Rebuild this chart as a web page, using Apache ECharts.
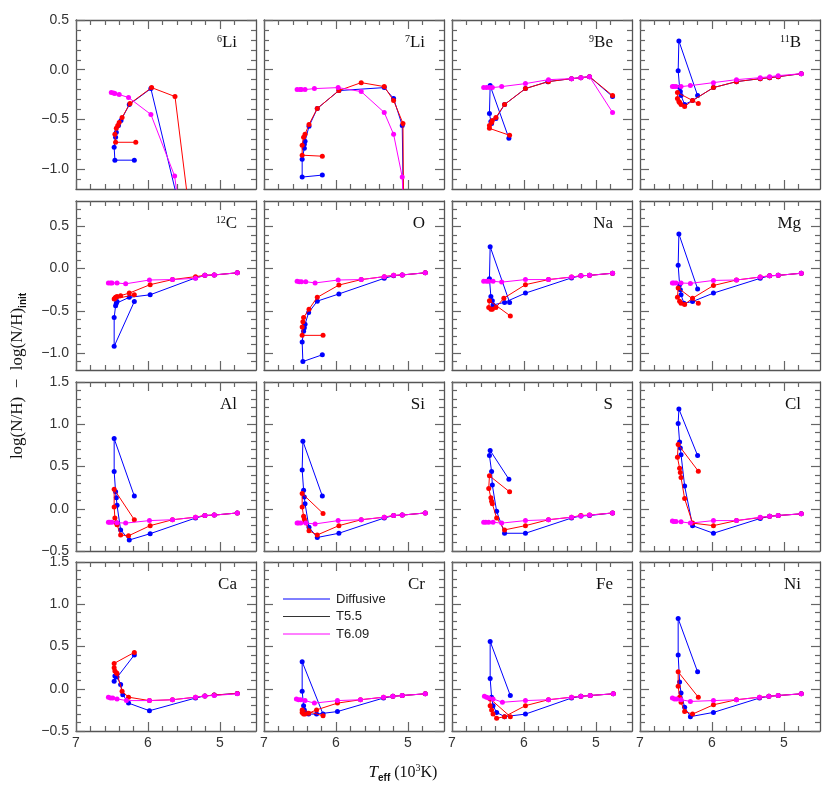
<!DOCTYPE html>
<html><head><meta charset="utf-8">
<script src="https://cdn.jsdelivr.net/npm/echarts@6/dist/echarts.min.js"></script>
<style>html,body{margin:0;padding:0;background:#fff}#c{width:830px;height:790px}</style>
</head><body><div id="c"></div><script>
// ---------------- data (Teff in 10^3 K, log(N/H) - log(N/H)init) ----------------
const li6Diff = [[6.19,-0.91],[6.46,-0.91],[6.47,-0.78],[6.45,-0.68],[6.44,-0.63],[6.41,-0.56],[6.375,-0.51],[6.26,-0.35],[5.96,-0.19],[5.45,-1.73]];
const li6T55  = [[6.17,-0.73],[6.45,-0.73],[6.46,-0.65],[6.44,-0.59],[6.42,-0.56],[6.40,-0.53],[6.36,-0.48],[6.25,-0.34],[5.95,-0.18],[5.625,-0.27],[5.38,-1.7]];
const li6T609 = [[6.51,-0.23],[6.48,-0.235],[6.46,-0.24],[6.40,-0.25],[6.27,-0.28],[5.96,-0.45],[5.63,-1.07],[5.55,-1.5]];

const li7Diff = [[6.19,-1.06],[6.47,-1.08],[6.47,-0.90],[6.44,-0.79],[6.44,-0.75],[6.43,-0.72],[6.375,-0.57],[6.26,-0.39],[5.96,-0.21],[5.33,-0.18],[5.20,-0.29],[5.08,-0.56],[5.06,-1.6]];
const li7T55  = [[6.19,-0.87],[6.47,-0.86],[6.47,-0.76],[6.45,-0.68],[6.43,-0.65],[6.375,-0.55],[6.26,-0.39],[5.96,-0.21],[5.65,-0.13],[5.33,-0.17],[5.20,-0.31],[5.07,-0.54],[5.06,-1.6]];
const li7T609 = [[6.54,-0.20],[6.50,-0.20],[6.48,-0.20],[6.43,-0.20],[6.30,-0.19],[5.97,-0.18],[5.65,-0.22],[5.33,-0.43],[5.20,-0.65],[5.08,-1.08],[5.06,-1.5]];

const be9Diff = [[6.21,-0.69],[6.47,-0.16],[6.48,-0.44],[6.46,-0.52],[6.45,-0.54],[6.39,-0.49],[6.27,-0.35],[5.98,-0.19],[5.67,-0.12],[5.34,-0.09],[5.21,-0.08],[5.09,-0.07],[4.77,-0.27]];
const be9T55  = [[6.20,-0.66],[6.48,-0.59],[6.48,-0.56],[6.45,-0.53],[6.44,-0.51],[6.39,-0.48],[6.27,-0.35],[5.98,-0.19],[5.66,-0.12],[5.34,-0.09],[5.21,-0.08],[5.09,-0.07],[4.77,-0.26]];
const be9T609 = [[6.56,-0.18],[6.52,-0.18],[6.48,-0.18],[6.44,-0.18],[6.31,-0.17],[5.98,-0.14],[5.66,-0.10],[5.34,-0.09],[5.21,-0.08],[5.09,-0.07],[4.77,-0.43]];

const b11Diff = [[6.20,-0.26],[6.46,0.29],[6.47,-0.01],[6.45,-0.18],[6.44,-0.22],[6.43,-0.26],[6.38,-0.35],[6.27,-0.31],[5.98,-0.18],[5.66,-0.12],[5.33,-0.09],[5.20,-0.08],[5.08,-0.07],[4.76,-0.04]];
const b11T55  = [[6.19,-0.34],[6.48,-0.23],[6.48,-0.29],[6.46,-0.32],[6.45,-0.33],[6.43,-0.35],[6.38,-0.37],[6.27,-0.31],[5.98,-0.18],[5.66,-0.12],[5.33,-0.09],[5.20,-0.08],[5.08,-0.07],[4.76,-0.04]];
const b11T609 = [[6.55,-0.17],[6.53,-0.17],[6.50,-0.17],[6.43,-0.17],[6.30,-0.16],[5.98,-0.13],[5.66,-0.10],[5.33,-0.08],[5.20,-0.07],[5.08,-0.06],[4.76,-0.04]];

const c12Diff = [[6.19,-0.39],[6.47,-0.92],[6.47,-0.58],[6.45,-0.44],[6.44,-0.41],[6.43,-0.39],[6.26,-0.34],[5.97,-0.31],[5.34,-0.11],[5.21,-0.08],[5.08,-0.075],[4.76,-0.05]];
const c12T55  = [[6.19,-0.31],[6.47,-0.36],[6.46,-0.35],[6.45,-0.34],[6.43,-0.33],[6.38,-0.32],[6.26,-0.29],[5.97,-0.19],[5.66,-0.13],[5.34,-0.095],[5.21,-0.08],[5.08,-0.075],[4.76,-0.05]];
const c12T609 = [[6.55,-0.17],[6.52,-0.17],[6.50,-0.17],[6.43,-0.17],[6.31,-0.18],[5.98,-0.135],[5.66,-0.13],[5.34,-0.115],[5.21,-0.08],[5.08,-0.075],[4.76,-0.05]];

const oDiff = [[6.19,-1.02],[6.46,-1.10],[6.47,-0.87],[6.45,-0.74],[6.44,-0.70],[6.43,-0.66],[6.38,-0.52],[6.26,-0.385],[5.96,-0.30],[5.33,-0.115],[5.20,-0.085],[5.08,-0.075],[4.76,-0.05]];
const oT55  = [[6.18,-0.79],[6.47,-0.79],[6.47,-0.69],[6.46,-0.63],[6.45,-0.58],[6.375,-0.48],[6.26,-0.34],[5.96,-0.195],[5.65,-0.13],[5.33,-0.095],[5.20,-0.08],[5.08,-0.075],[4.76,-0.05]];
const oT609 = [[6.54,-0.15],[6.51,-0.155],[6.48,-0.155],[6.42,-0.155],[6.29,-0.17],[5.97,-0.135],[5.65,-0.13],[5.33,-0.095],[5.20,-0.08],[5.08,-0.075],[4.76,-0.05]];

const naDiff = [[6.20,-0.40],[6.47,0.26],[6.48,-0.12],[6.46,-0.33],[6.44,-0.38],[6.43,-0.43],[6.27,-0.40],[5.98,-0.29],[5.34,-0.11],[5.21,-0.085],[5.09,-0.08],[4.77,-0.055]];
const naT55  = [[6.19,-0.56],[6.48,-0.38],[6.49,-0.46],[6.46,-0.48],[6.44,-0.48],[6.39,-0.46],[6.28,-0.35],[5.98,-0.19],[5.66,-0.13],[5.34,-0.10],[5.21,-0.085],[5.09,-0.08],[4.77,-0.055]];
const naT609 = [[6.56,-0.15],[6.52,-0.15],[6.49,-0.15],[6.43,-0.15],[6.31,-0.16],[5.98,-0.13],[5.66,-0.13],[5.34,-0.10],[5.21,-0.085],[5.09,-0.08],[4.77,-0.055]];

const mgDiff = [[6.20,-0.24],[6.46,0.41],[6.47,0.04],[6.45,-0.19],[6.44,-0.25],[6.43,-0.31],[6.39,-0.41],[6.27,-0.39],[5.98,-0.29],[5.33,-0.115],[5.20,-0.085],[5.08,-0.08],[4.76,-0.055]];
const mgT55  = [[6.19,-0.41],[6.47,-0.23],[6.48,-0.34],[6.45,-0.385],[6.43,-0.41],[6.38,-0.425],[6.27,-0.35],[5.98,-0.20],[5.66,-0.135],[5.33,-0.10],[5.20,-0.085],[5.08,-0.08],[4.76,-0.055]];
const mgT609 = [[6.55,-0.17],[6.53,-0.17],[6.50,-0.17],[6.43,-0.17],[6.30,-0.175],[5.98,-0.14],[5.66,-0.135],[5.33,-0.10],[5.20,-0.085],[5.08,-0.08],[4.76,-0.055]];

const alDiff = [[6.19,0.15],[6.47,0.83],[6.47,0.44],[6.45,0.20],[6.44,0.13],[6.43,0.04],[6.38,-0.25],[6.26,-0.37],[5.97,-0.295],[5.34,-0.11],[5.21,-0.08],[5.08,-0.075],[4.76,-0.05]];
const alT55  = [[6.19,-0.13],[6.47,0.23],[6.47,0.02],[6.46,-0.11],[6.44,-0.165],[6.43,-0.19],[6.38,-0.31],[6.27,-0.32],[5.97,-0.20],[5.66,-0.13],[5.34,-0.10],[5.21,-0.08],[5.08,-0.075],[4.76,-0.05]];
const alT609 = [[6.55,-0.16],[6.53,-0.16],[6.50,-0.16],[6.43,-0.165],[6.31,-0.17],[5.98,-0.14],[5.66,-0.13],[5.34,-0.10],[5.21,-0.08],[5.08,-0.075],[4.76,-0.05]];

const siDiff = [[6.19,0.15],[6.46,0.80],[6.47,0.46],[6.45,0.22],[6.44,0.14],[6.43,0.06],[6.375,-0.22],[6.26,-0.34],[5.96,-0.29],[5.33,-0.11],[5.20,-0.08],[5.08,-0.075],[4.76,-0.05]];
const siT55  = [[6.18,-0.055],[6.47,0.18],[6.47,0.02],[6.45,-0.09],[6.44,-0.12],[6.43,-0.15],[6.375,-0.26],[6.26,-0.31],[5.96,-0.20],[5.65,-0.13],[5.33,-0.10],[5.20,-0.08],[5.08,-0.075],[4.76,-0.05]];
const siT609 = [[6.54,-0.17],[6.52,-0.17],[6.49,-0.17],[6.42,-0.17],[6.29,-0.18],[5.97,-0.14],[5.65,-0.13],[5.33,-0.10],[5.20,-0.08],[5.08,-0.075],[4.76,-0.05]];

const sDiff = [[6.21,0.35],[6.47,0.69],[6.48,0.63],[6.45,0.44],[6.44,0.28],[6.38,-0.03],[6.27,-0.29],[5.98,-0.29],[5.34,-0.11],[5.21,-0.085],[5.09,-0.08],[4.77,-0.05]];
const sT55  = [[6.20,0.20],[6.48,0.39],[6.49,0.24],[6.46,0.13],[6.45,0.09],[6.44,0.06],[6.38,-0.11],[6.27,-0.25],[5.98,-0.20],[5.66,-0.13],[5.34,-0.10],[5.21,-0.08],[5.09,-0.075],[4.77,-0.05]];
const sT609 = [[6.56,-0.16],[6.53,-0.16],[6.49,-0.16],[6.43,-0.16],[6.31,-0.17],[5.98,-0.14],[5.66,-0.13],[5.34,-0.10],[5.21,-0.085],[5.09,-0.075],[4.77,-0.05]];

const clDiff = [[6.20,0.63],[6.46,1.18],[6.47,1.01],[6.45,0.79],[6.44,0.72],[6.43,0.64],[6.38,0.27],[6.27,-0.20],[5.98,-0.29],[5.33,-0.115],[5.20,-0.09],[5.08,-0.08],[4.76,-0.06]];
const clT55  = [[6.19,0.445],[6.47,0.76],[6.48,0.61],[6.45,0.48],[6.44,0.43],[6.43,0.37],[6.38,0.12],[6.27,-0.17],[5.98,-0.20],[5.66,-0.14],[5.33,-0.105],[5.20,-0.09],[5.08,-0.08],[4.76,-0.06]];
const clT609 = [[6.55,-0.145],[6.53,-0.15],[6.50,-0.15],[6.43,-0.155],[6.30,-0.17],[5.98,-0.14],[5.66,-0.14],[5.33,-0.10],[5.20,-0.09],[5.08,-0.08],[4.76,-0.06]];

const caDiff = [[6.19,0.40],[6.47,0.09],[6.46,0.15],[6.43,0.14],[6.38,0.05],[6.35,-0.07],[6.27,-0.17],[5.98,-0.26],[5.34,-0.11],[5.21,-0.085],[5.08,-0.075],[4.76,-0.055]];
const caT55  = [[6.19,0.43],[6.47,0.30],[6.47,0.25],[6.46,0.21],[6.44,0.19],[6.43,0.18],[6.36,-0.03],[6.27,-0.10],[5.98,-0.14],[5.66,-0.13],[5.34,-0.10],[5.21,-0.085],[5.08,-0.075],[4.76,-0.055]];
const caT609 = [[6.55,-0.10],[6.52,-0.11],[6.49,-0.11],[6.43,-0.12],[6.30,-0.14],[5.98,-0.14],[5.66,-0.13],[5.34,-0.10],[5.21,-0.085],[5.08,-0.08],[4.76,-0.06]];

const crDiff = [[6.18,-0.30],[6.47,0.32],[6.47,-0.03],[6.45,-0.20],[6.44,-0.25],[6.43,-0.28],[6.38,-0.30],[6.27,-0.30],[5.98,-0.27],[5.34,-0.11],[5.21,-0.09],[5.08,-0.08],[4.76,-0.06]];
const crT55  = [[6.18,-0.32],[6.47,-0.25],[6.47,-0.28],[6.45,-0.30],[6.43,-0.30],[6.38,-0.29],[6.27,-0.25],[5.98,-0.17],[5.66,-0.13],[5.34,-0.10],[5.21,-0.09],[5.08,-0.08],[4.76,-0.06]];
const crT609 = [[6.55,-0.12],[6.52,-0.13],[6.49,-0.13],[6.43,-0.14],[6.30,-0.17],[5.98,-0.14],[5.66,-0.13],[5.34,-0.10],[5.21,-0.09],[5.08,-0.08],[4.76,-0.06]];

const feDiff = [[6.19,-0.08],[6.47,0.56],[6.47,0.12],[6.45,-0.10],[6.43,-0.20],[6.38,-0.28],[6.27,-0.33],[5.98,-0.30],[5.34,-0.11],[5.21,-0.09],[5.08,-0.08],[4.76,-0.06]];
const feT55  = [[6.19,-0.33],[6.47,-0.12],[6.47,-0.20],[6.45,-0.25],[6.43,-0.30],[6.38,-0.35],[6.27,-0.33],[5.98,-0.20],[5.66,-0.13],[5.34,-0.10],[5.21,-0.09],[5.08,-0.08],[4.76,-0.06]];
const feT609 = [[6.55,-0.09],[6.52,-0.10],[6.49,-0.11],[6.43,-0.12],[6.30,-0.16],[5.98,-0.14],[5.66,-0.13],[5.34,-0.10],[5.21,-0.09],[5.08,-0.08],[4.76,-0.06]];

const niDiff = [[6.20,0.20],[6.47,0.83],[6.47,0.40],[6.45,0.08],[6.43,-0.05],[6.38,-0.22],[6.30,-0.33],[5.98,-0.28],[5.34,-0.11],[5.21,-0.09],[5.08,-0.08],[4.76,-0.06]];
const niT55  = [[6.19,-0.10],[6.47,0.20],[6.47,0.03],[6.45,-0.10],[6.43,-0.16],[6.38,-0.27],[6.27,-0.30],[5.98,-0.19],[5.66,-0.13],[5.34,-0.10],[5.21,-0.09],[5.08,-0.08],[4.76,-0.06]];
const niT609 = [[6.55,-0.11],[6.52,-0.12],[6.49,-0.12],[6.43,-0.13],[6.30,-0.15],[5.98,-0.14],[5.66,-0.13],[5.34,-0.10],[5.21,-0.09],[5.08,-0.08],[4.76,-0.06]];

const panelLabels = ['{s|6}{m|Li}','{s|7}{m|Li}','{s|9}{m|Be}','{s|11}{m|B}',
                     '{s|12}{m|C}','{m|O}','{m|Na}','{m|Mg}',
                     '{m|Al}','{m|Si}','{m|S}','{m|Cl}',
                     '{m|Ca}','{m|Cr}','{m|Fe}','{m|Ni}'];
const diffSets = [li6Diff,li7Diff,be9Diff,b11Diff,c12Diff,oDiff,naDiff,mgDiff,alDiff,siDiff,sDiff,clDiff,caDiff,crDiff,feDiff,niDiff];
const t55Sets  = [li6T55,li7T55,be9T55,b11T55,c12T55,oT55,naT55,mgT55,alT55,siT55,sT55,clT55,caT55,crT55,feT55,niT55];
const t609Sets = [li6T609,li7T609,be9T609,b11T609,c12T609,oT609,naT609,mgT609,alT609,siT609,sT609,clT609,caT609,crT609,feT609,niT609];
const seriesNames = ['Diffusive','T5.5','T6.09'];
const seriesColors = ['#0000ff','#ff0000','#ff00ff'];
const legendColors = ['#0000ff','#333333','#ff00ff'];

const xMin = 4.5, xMax = 7;
const xMajor = [5,6,7];
const yRanges = [[-1.2,0.5],[-1.2,0.8],[-0.5,1.5],[-0.5,1.5]];
const yMajors = [[-1,-0.5,0,0.5],[-1,-0.5,0,0.5],[-0.5,0,0.5,1,1.5],[-0.5,0,0.5,1,1.5]];

// ---------------- layout ----------------
const colL = [76,264,452,640], rowT = [20,201,382,562], W = 180, H = 169;
const AX = '#555', TK = '#666';
const SANS = 'Liberation Sans', SERIF = 'Liberation Serif';

function minorTicks(a, b, step, majors){
  const out = [];
  const n0 = Math.round(a/step)+1, n1 = Math.round(b/step)-1;
  for (let k=n0;k<=n1;k++){ const v = +(k*step).toFixed(3); if (!majors.some(m=>Math.abs(m-v)<1e-6)) out.push(v); }
  return out;
}
const xMinor = minorTicks(xMin, xMax, 0.2, xMajor);
const fmtY = v => (v<0?'\u2212':'') + Math.abs(v).toFixed(1);

const grid=[], xAxis=[], yAxis=[], series=[], title=[];
for (let r=0;r<4;r++) for (let c=0;c<4;c++){
  const i = r*4+c;
  grid.push({left:colL[c], top:rowT[r], width:W, height:H, containLabel:false});
  const yr = yRanges[r], yM = yMajors[r], ym = minorTicks(yr[0], yr[1], 0.1, yM);
  const xBase = {type:'value', gridIndex:i, min:xMin, max:xMax, inverse:true, splitLine:{show:false}, axisPointer:{show:false}};
  const yBase = {type:'value', gridIndex:i, min:yr[0], max:yr[1], splitLine:{show:false}, axisPointer:{show:false}};
  const lineOn  = {show:true, onZero:false, lineStyle:{color:AX, width:1.3}};
  const lineOff = {show:false, onZero:false};
  const tick = (vals,len) => ({show:true, inside:true, length:len, customValues:vals, lineStyle:{color:TK, width:1.2}});
  const showXL = r===3, showYL = c===0;
  xAxis.push(Object.assign({}, xBase, {position:'bottom', axisLine:lineOn, axisTick:tick(xMajor,9),
     axisLabel:{show:showXL, customValues:xMajor, margin:5, color:'#333', fontFamily:SANS, fontSize:14, formatter:v=>String(Math.round(v))}}));
  xAxis.push(Object.assign({}, xBase, {position:'bottom', axisLine:lineOff, axisTick:tick(xMinor,5), axisLabel:{show:false}}));
  xAxis.push(Object.assign({}, xBase, {position:'top', axisLine:lineOn, axisTick:tick(xMajor,9), axisLabel:{show:false}}));
  xAxis.push(Object.assign({}, xBase, {position:'top', axisLine:lineOff, axisTick:tick(xMinor,5), axisLabel:{show:false}}));
  yAxis.push(Object.assign({}, yBase, {position:'left', axisLine:lineOn, axisTick:tick(yM,9),
     axisLabel:{show:showYL, customValues:yM, margin:7, color:'#333', fontFamily:SANS, fontSize:14, formatter:fmtY}}));
  yAxis.push(Object.assign({}, yBase, {position:'left', axisLine:lineOff, axisTick:tick(ym,5), axisLabel:{show:false}}));
  yAxis.push(Object.assign({}, yBase, {position:'right', axisLine:lineOn, axisTick:tick(yM,9), axisLabel:{show:false}}));
  yAxis.push(Object.assign({}, yBase, {position:'right', axisLine:lineOff, axisTick:tick(ym,5), axisLabel:{show:false}}));

  [diffSets[i], t55Sets[i], t609Sets[i]].forEach((d,k)=>{
    series.push({type:'line', name:seriesNames[k], xAxisIndex:4*i, yAxisIndex:4*i, data:d,
      symbol:'circle', symbolSize:5, showSymbol:true, clip:true, silent:true, z:2+k,
      lineStyle:{color:seriesColors[k], width:1}, itemStyle:{color:seriesColors[k]}});
  });

  title.push({text:panelLabels[i], right: 830-(colL[c]+W-19), top: rowT[r]+14, padding:0,
    textStyle:{fontFamily:SERIF, fontSize:16, fontWeight:'normal', color:'#111',
      rich:{s:{fontFamily:SERIF, fontSize:10, lineHeight:11, verticalAlign:'top', color:'#111'},
            m:{fontFamily:SERIF, fontSize:17, lineHeight:18, color:'#111'}}}});
}

// legend key drawn inside the Cr panel
const legendGraphics = [];
seriesNames.forEach((nm,k)=>{
  const y = 599 + k*17.5;
  legendGraphics.push({type:'line', shape:{x1:283, y1:y, x2:330, y2:y}, style:{stroke:legendColors[k], lineWidth:1}, silent:true, z:10});
  legendGraphics.push({type:'text', x:336, y:y, style:{text:nm, fill:'#222', font:'13px "Liberation Sans"', verticalAlign:'middle', align:'left'}, silent:true, z:10});
});

const option = {
  animation:false,
  backgroundColor:'#fff',
  grid, xAxis, yAxis, series, title,
  graphic: legendGraphics.concat([
    {type:'text', x:18, y:376, rotation:Math.PI/2,
     style:{text:'{n|log(N/H)  \u2212  log(N/H)}{b|init}', align:'center', verticalAlign:'middle',
       rich:{n:{fontFamily:SERIF, fontSize:17, fill:'#111', lineHeight:20},
             b:{fontFamily:SANS, fontSize:10, fontWeight:'bold', fill:'#111', verticalAlign:'bottom', lineHeight:14}}}},
    {type:'text', x:403, y:773,
     style:{text:'{t|T}{b|eff}{n| (10}{s|3}{n|K)}', align:'center', verticalAlign:'middle',
       rich:{t:{fontFamily:SERIF, fontStyle:'italic', fontSize:17, fill:'#111', lineHeight:20},
             b:{fontFamily:SANS, fontSize:10, fontWeight:'bold', fill:'#111', verticalAlign:'bottom', lineHeight:14},
             n:{fontFamily:SERIF, fontSize:16, fill:'#111', lineHeight:20},
             s:{fontFamily:SERIF, fontSize:10, fill:'#111', verticalAlign:'top', lineHeight:12}}}}
  ])
};
const chart = echarts.init(document.getElementById('c'), null, {renderer:'canvas'});
chart.setOption(option);
</script></body></html>
